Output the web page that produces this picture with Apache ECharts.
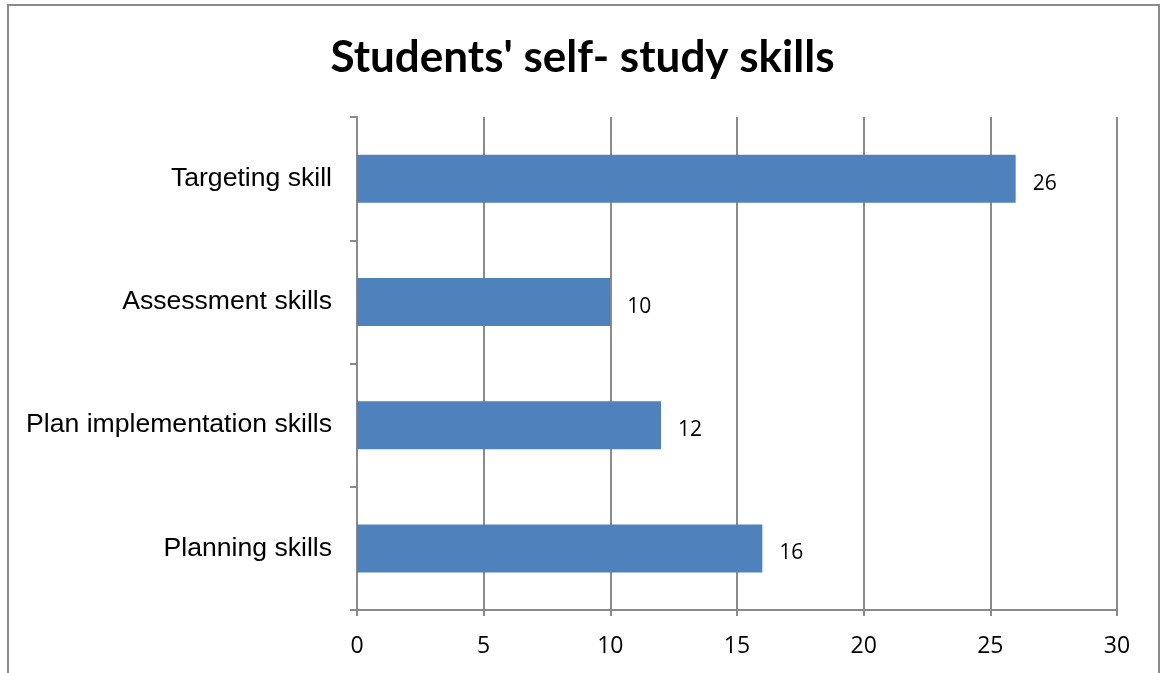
<!DOCTYPE html>
<html><head><meta charset="utf-8">
<script src="https://cdn.jsdelivr.net/npm/echarts@6/dist/echarts.min.js"></script>
<style>html,body{margin:0;padding:0;background:#fff}#c{width:1165px;height:673px}</style>
</head><body><div id="c"></div>
<script>
const categories = ['Planning skills', 'Plan implementation skills', 'Assessment skills', 'Targeting skill'];
const values = [16, 12, 10, 26];
const xTicks = [0, 5, 10, 15, 20, 25, 30];

const chart = echarts.init(document.getElementById('c'));
chart.setOption({
  animation: false,
  title: {
    text: "Students' self- study skills",
    left: 'center', top: 31,
    textStyle: { fontFamily: 'Lato', fontWeight: 'bold', fontSize: 44, color: '#000' }
  },
  graphic: [{
    type: 'rect', shape: { x: 8, y: 5, width: 1151, height: 700 },
    style: { fill: 'none', stroke: '#8a8a8a', lineWidth: 2 }, silent: true
  }],
  grid: { left: 357, right: 48, top: 117, bottom: 63 },
  xAxis: {
    type: 'value', min: xTicks[0], max: xTicks[xTicks.length - 1], interval: 5,
    axisLine: { show: true, lineStyle: { color: '#8a8a8a', width: 2 } },
    axisTick: { show: true, length: 6, lineStyle: { color: '#8a8a8a', width: 2 } },
    splitLine: { show: true, lineStyle: { color: '#8a8a8a', width: 2 } },
    axisLabel: { margin: 25, fontFamily: 'Open Sans', fontSize: 23, color: '#000' }
  },
  yAxis: {
    type: 'category', data: categories,
    axisLine: { show: true, lineStyle: { color: '#8a8a8a', width: 2 } },
    axisTick: { show: true, length: 7, lineStyle: { color: '#8a8a8a', width: 2 } },
    splitLine: { show: false },
    axisLabel: { margin: 25, fontFamily: 'Liberation Sans', fontSize: 26.6, color: '#000' }
  },
  series: [{
    type: 'bar', data: values, barWidth: 48,
    itemStyle: { color: '#4f81bd' },
    label: { show: true, position: 'right', distance: 17, fontFamily: 'Open Sans', fontSize: 21, color: '#000', offset: [0, 5] }
  }]
});
</script></body></html>
